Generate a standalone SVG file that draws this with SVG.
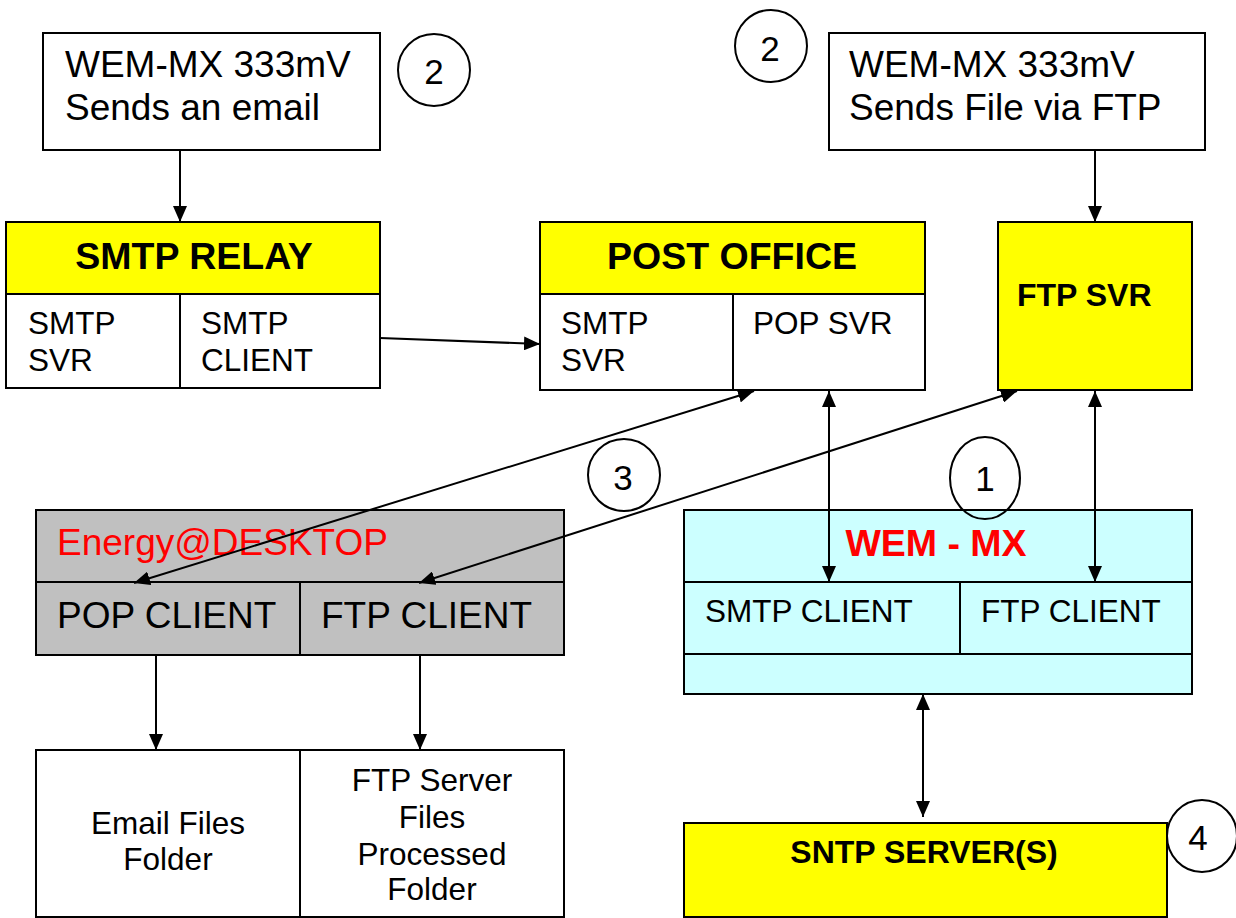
<svg xmlns="http://www.w3.org/2000/svg" width="1236" height="918" viewBox="0 0 1236 918">
<style>
.box{stroke:#000;stroke-width:2;fill:#fff}
.yel{fill:#ffff00}
.gry{fill:#c0c0c0}
.cyn{fill:#ccffff}
.ln{stroke:#000;stroke-width:2;fill:none}
.t{font-family:"Liberation Sans",Arial,sans-serif;fill:#000}
.big{font-size:37px}
.mid{font-size:31.5px}
.hb{font-size:37.5px;font-weight:bold}
.hs{font-size:32px;font-weight:bold}
.red{fill:#ff0000}
.num{font-size:35px;text-anchor:middle}
.c{text-anchor:middle}
.circ{fill:none;stroke:#000;stroke-width:2}
</style>
<defs>
<marker id="ah" markerUnits="userSpaceOnUse" markerWidth="16" markerHeight="14" refX="16" refY="7" orient="auto-start-reverse">
<path d="M0,0 L16,7 L0,14 z" fill="#000"/>
</marker>
</defs>

<g id="email-note">
<rect class="box" x="43" y="33" width="337" height="117"/>
<text class="t big" x="65" y="77">WEM-MX 333mV</text>
<text class="t big" x="65" y="120">Sends an email</text>
</g>

<g id="ftp-note">
<rect class="box" x="829" y="33" width="376" height="117"/>
<text class="t big" x="849" y="77">WEM-MX 333mV</text>
<text class="t big" x="849" y="120">Sends File via FTP</text>
</g>

<g id="smtp-relay">
<rect class="box yel" x="6" y="222" width="374" height="72"/>
<rect class="box" x="6" y="294" width="374" height="94"/>
<line class="ln" x1="180" y1="294" x2="180" y2="388"/>
<text class="t hb c" x="194" y="269">SMTP RELAY</text>
<text class="t mid" x="28" y="334">SMTP</text>
<text class="t mid" x="28" y="371">SVR</text>
<text class="t mid" x="201" y="334">SMTP</text>
<text class="t mid" x="201" y="371">CLIENT</text>
</g>

<g id="post-office">
<rect class="box yel" x="540" y="222" width="385" height="72"/>
<rect class="box" x="540" y="294" width="385" height="96"/>
<line class="ln" x1="733" y1="294" x2="733" y2="390"/>
<text class="t hb c" x="732" y="269">POST OFFICE</text>
<text class="t mid" x="561" y="334">SMTP</text>
<text class="t mid" x="561" y="371">SVR</text>
<text class="t mid" x="753" y="334">POP SVR</text>
</g>

<g id="ftp-svr">
<rect class="box yel" x="998" y="222" width="194" height="168"/>
<text class="t hs" x="1017" y="306">FTP SVR</text>
</g>

<g id="desktop">
<rect class="box gry" x="36" y="510" width="528" height="72"/>
<rect class="box gry" x="36" y="582" width="528" height="73"/>
<line class="ln" x1="300" y1="582" x2="300" y2="655"/>
<text class="t big red" x="57" y="555">Energy@DESKTOP</text>
<text class="t big" x="57" y="628">POP CLIENT</text>
<text class="t big" x="321" y="628">FTP CLIENT</text>
</g>

<g id="folders">
<rect class="box" x="36" y="750" width="528" height="167"/>
<line class="ln" x1="300" y1="750" x2="300" y2="917"/>
<text class="t mid c" x="168" y="834">Email Files</text>
<text class="t mid c" x="168" y="870">Folder</text>
<text class="t mid c" x="432" y="791">FTP Server</text>
<text class="t mid c" x="432" y="828">Files</text>
<text class="t mid c" x="432" y="865">Processed</text>
<text class="t mid c" x="432" y="900">Folder</text>
</g>

<g id="wem-mx">
<rect class="box cyn" x="684" y="510" width="508" height="184"/>
<line class="ln" x1="684" y1="582" x2="1192" y2="582"/>
<line class="ln" x1="684" y1="654" x2="1192" y2="654"/>
<line class="ln" x1="960" y1="582" x2="960" y2="654"/>
<text class="t hb red c" x="936" y="556">WEM - MX</text>
<text class="t mid" x="705" y="622">SMTP CLIENT</text>
<text class="t mid" x="981" y="622">FTP CLIENT</text>
</g>

<g id="sntp">
<rect class="box yel" x="684" y="823" width="483" height="94"/>
<text class="t hs c" x="924" y="863">SNTP SERVER(S)</text>
</g>

<g id="connectors">
<line class="ln" x1="180" y1="150" x2="180" y2="222" marker-end="url(#ah)"/>
<line class="ln" x1="1095" y1="150" x2="1095" y2="222" marker-end="url(#ah)"/>
<line class="ln" x1="380" y1="338" x2="540" y2="344" marker-end="url(#ah)"/>
<line class="ln" x1="754" y1="391" x2="134" y2="583" marker-start="url(#ah)" marker-end="url(#ah)"/>
<line class="ln" x1="1017" y1="391" x2="419" y2="583" marker-start="url(#ah)" marker-end="url(#ah)"/>
<line class="ln" x1="829" y1="391" x2="829" y2="582" marker-start="url(#ah)" marker-end="url(#ah)"/>
<line class="ln" x1="1095" y1="391" x2="1095" y2="582" marker-start="url(#ah)" marker-end="url(#ah)"/>
<line class="ln" x1="156" y1="655" x2="156" y2="750" marker-end="url(#ah)"/>
<line class="ln" x1="420" y1="655" x2="420" y2="750" marker-end="url(#ah)"/>
<line class="ln" x1="923" y1="694" x2="923" y2="817" marker-start="url(#ah)" marker-end="url(#ah)"/>
</g>

<g id="marker-1">
<ellipse class="circ" cx="985" cy="478" rx="35" ry="41"/>
<text class="t num" x="985" y="491">1</text>
</g>
<g id="marker-2a">
<ellipse class="circ" cx="434" cy="70" rx="36" ry="36"/>
<text class="t num" x="434" y="84">2</text>
</g>
<g id="marker-2b">
<ellipse class="circ" cx="771" cy="46" rx="36" ry="36"/>
<text class="t num" x="770" y="61">2</text>
</g>
<g id="marker-3">
<ellipse class="circ" cx="624" cy="475" rx="36" ry="36"/>
<text class="t num" x="623" y="490">3</text>
</g>
<g id="marker-4">
<ellipse class="circ" cx="1202" cy="836" rx="35" ry="36"/>
<text class="t num" x="1198" y="850">4</text>
</g>
</svg>
